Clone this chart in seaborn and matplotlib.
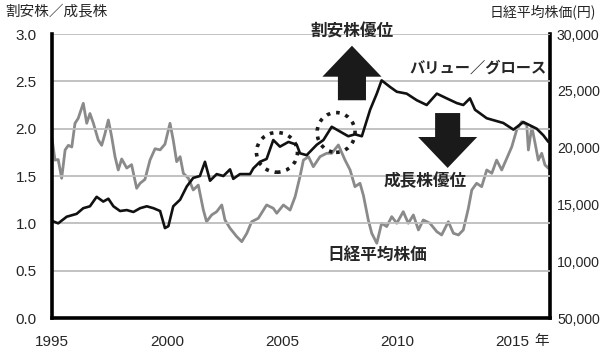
import matplotlib
matplotlib.use("Agg")
import matplotlib.pyplot as plt
from matplotlib.patches import FancyArrow, Ellipse
import matplotlib.transforms as mtransforms
import seaborn as sns

# value / growth ratio (left axis)
vg_year = [1995.06, 1995.27, 1995.64, 1996.07, 1996.36, 1996.65, 1996.94, 1997.23, 1997.45,
           1997.67, 1997.96, 1998.25, 1998.54, 1998.83, 1999.12, 1999.41, 1999.70, 1999.91,
           2000.06, 2000.27, 2000.57, 2000.86, 2001.14, 2001.43, 2001.65, 2001.87, 2002.16,
           2002.45, 2002.74, 2002.88, 2003.17, 2003.61, 2003.75, 2004.04, 2004.33, 2004.62,
           2004.91, 2005.28, 2005.64, 2005.78, 2006.07, 2006.51, 2006.80, 2007.16, 2007.52,
           2007.88, 2008.17, 2008.47, 2008.83, 2009.12, 2009.33, 2009.70, 2009.99, 2010.42,
           2010.86, 2011.29, 2011.73, 2012.16, 2012.60, 2012.88, 2013.17, 2013.39, 2013.90,
           2014.62, 2015.06, 2015.49, 2016.07, 2016.36, 2016.58, 2016.70]
vg_ratio = [1.02, 1.00, 1.07, 1.10, 1.16, 1.18, 1.28, 1.23, 1.26,
            1.18, 1.13, 1.14, 1.12, 1.16, 1.18, 1.16, 1.13, 0.95,
            0.97, 1.18, 1.25, 1.39, 1.48, 1.50, 1.65, 1.45, 1.52,
            1.50, 1.57, 1.47, 1.52, 1.52, 1.58, 1.65, 1.68, 1.88,
            1.81, 1.86, 1.83, 1.74, 1.72, 1.83, 1.88, 2.02, 1.97,
            1.92, 1.94, 1.92, 2.20, 2.37, 2.51, 2.44, 2.39, 2.37,
            2.30, 2.25, 2.37, 2.32, 2.27, 2.25, 2.32, 2.20, 2.11,
            2.06, 1.99, 2.07, 2.00, 1.93, 1.86, 1.88]

# Nikkei average (right axis)
nk_year = [1995.00, 1995.13, 1995.27, 1995.42, 1995.57, 1995.71, 1995.86, 1996.00, 1996.14,
           1996.36, 1996.51, 1996.65, 1996.80, 1997.01, 1997.16, 1997.30, 1997.45, 1997.59,
           1997.74, 1997.88, 1998.03, 1998.25, 1998.46, 1998.68, 1998.83, 1999.04, 1999.26,
           1999.48, 1999.70, 1999.91, 2000.13, 2000.27, 2000.42, 2000.57, 2000.71, 2000.93,
           2001.14, 2001.36, 2001.58, 2001.72, 2001.94, 2002.16, 2002.38, 2002.52, 2002.74,
           2003.03, 2003.25, 2003.47, 2003.68, 2003.97, 2004.33, 2004.62, 2004.77, 2005.06,
           2005.35, 2005.57, 2005.71, 2005.78, 2005.93, 2006.15, 2006.36, 2006.65, 2006.94,
           2007.16, 2007.45, 2007.74, 2007.96, 2008.17, 2008.39, 2008.54, 2008.75, 2008.90,
           2009.12, 2009.33, 2009.55, 2009.77, 2009.99, 2010.27, 2010.49, 2010.71, 2010.93,
           2011.14, 2011.43, 2011.73, 2011.94, 2012.23, 2012.45, 2012.67, 2012.88, 2013.10,
           2013.25, 2013.46, 2013.68, 2013.90, 2014.12, 2014.33, 2014.55, 2014.77, 2014.99,
           2015.20, 2015.42, 2015.64, 2015.71, 2015.86, 2016.00, 2016.14, 2016.29, 2016.43,
           2016.58, 2016.73]
nk_price = [20820, 18900, 18950, 17300, 19790, 20200, 20050, 22140, 22580,
            23900, 22140, 23000, 22140, 20670, 20200, 21200, 22430, 21000,
            19200, 18030, 19000, 18200, 18500, 16420, 16860, 17200, 18900,
            19900, 19800, 20300, 22140, 20670, 18760, 19200, 17740, 17300,
            16270, 16700, 14510, 13480, 14070, 14360, 14950, 13630, 12900,
            12170, 11720, 12460, 13480, 13780, 14950, 14660, 14220, 14950,
            14500, 15680, 16860, 17440, 18900, 19200, 18320, 19200, 19500,
            19500, 20230, 18900, 18030, 16560, 16860, 15780, 13630, 12460,
            11580, 13340, 13050, 13920, 13340, 14360, 13340, 14070, 12750,
            13630, 13340, 12600, 12310, 13480, 12460, 12310, 12750, 14650,
            16270, 16860, 16560, 18030, 17740, 18900, 18030, 19050, 20080,
            21550, 22280, 21990, 19790, 21840, 20400, 18900, 19500, 18470,
            18180, 19200]

year_ticks = [1995, 2000, 2005, 2010, 2015]
ratio_ticks = [0.0, 0.5, 1.0, 1.5, 2.0, 2.5, 3.0]
price_ticks = [5000, 10000, 15000, 20000, 25000, 30000]
price_labels = ["50,000", "10,000", "15,000", "20,000", "25,000", "30,000"]

sns.set_style("white")
plt.rcParams['font.family'] = ['Liberation Sans', 'Noto Sans CJK JP']
JP = ['Noto Sans CJK JP', 'DejaVu Sans']

fig = plt.figure(figsize=(6, 3.52), dpi=100)
ax = fig.add_axes([52 / 600, 34 / 352, 498 / 600, 284 / 352])
ax2 = ax.twinx()

# Nikkei behind, ratio on top
ax.set_zorder(ax2.get_zorder() + 1)
ax.patch.set_visible(False)

sns.lineplot(x=nk_year, y=nk_price, ax=ax2, color='#8a8a8a', lw=2.0)
sns.lineplot(x=vg_year, y=vg_ratio, ax=ax, color='#111111', lw=1.9)

ax.set_xlim(1995, 2016.65)
ax.set_ylim(0, 3.0)
ax2.set_ylim(5000, 30000)

ax.set_xticks(year_ticks)
ax.set_xticklabels([str(y) for y in year_ticks])
ax.set_yticks(ratio_ticks)
ax.set_yticklabels([f"{v:.1f}" for v in ratio_ticks])
ax2.set_yticks(price_ticks)
ax2.set_yticklabels(price_labels)

ax.grid(axis='y', color='#bdbdbd', lw=1.3)
ax.grid(axis='x', visible=False)
ax2.grid(False)

ax.tick_params(axis='x', direction='out', length=5, width=2.5, color='black',
               labelsize=11, pad=7)
ax.tick_params(axis='y', length=0, labelsize=11, pad=11)
ax2.tick_params(axis='y', length=0, labelsize=10.2, pad=5)

for a in (ax, ax2):
    a.spines['top'].set_visible(False)
    for s in ('left', 'bottom', 'right'):
        a.spines[s].set_linewidth(2.6)
        a.spines[s].set_color('black')
ax.spines['right'].set_visible(False)
ax2.spines['left'].set_visible(False)
ax2.spines['bottom'].set_visible(False)
ax.set_xlabel("")
ax.set_ylabel("")
ax2.set_ylabel("")

# arrows
ax.add_patch(FancyArrow(2008.04, 2.30, 0, 0.576, width=1.22, head_width=2.57,
                        head_length=0.327, length_includes_head=True,
                        color='#1a1a1a', lw=0, clip_on=False))
ax.add_patch(FancyArrow(2012.2, 2.165, 0, -0.58, width=1.09, head_width=2.57,
                        head_length=0.327, length_includes_head=True,
                        color='#1a1a1a', lw=0))

# dotted circles
ax.add_patch(Ellipse((2004.78, 1.75), 1.78, 0.42, fill=False, ls=':', lw=2.6,
                     color='#1a1a1a'))
ax.add_patch(Ellipse((2007.35, 1.96), 1.65, 0.42, fill=False, ls=':', lw=2.6,
                     color='#1a1a1a'))

# labels in the plot
ax.text(2008.04, 3.03, "割安株優位", family=JP, fontsize=12, fontweight='bold',
        ha='center', va='center')
ax.text(2013.52, 2.64, "バリュー／グロース", family=JP, fontsize=11, fontweight='bold',
        ha='center', va='center')
ax.text(2011.22, 1.447, "成長株優位", family=JP, fontsize=12, fontweight='bold',
        ha='center', va='center')
ax.text(2009.13, 0.665, "日経平均株価", family=JP, fontsize=12, fontweight='bold',
        ha='center', va='center')

trans = mtransforms.blended_transform_factory(ax.transData, fig.transFigure)
ax.text(2016.3, 1 - 341 / 352, "年", family=JP, fontsize=10.5, ha='center',
        va='center', transform=trans)

fig.text(5 / 600, 1 - 12 / 352, "割安株／成長株", family=JP, fontsize=10.5,
         ha='left', va='center')
fig.text(596 / 600, 1 - 12 / 352, "日経平均株価(円)", family=JP, fontsize=10,
         ha='right', va='center')

fig.savefig("out.png", dpi=100)
